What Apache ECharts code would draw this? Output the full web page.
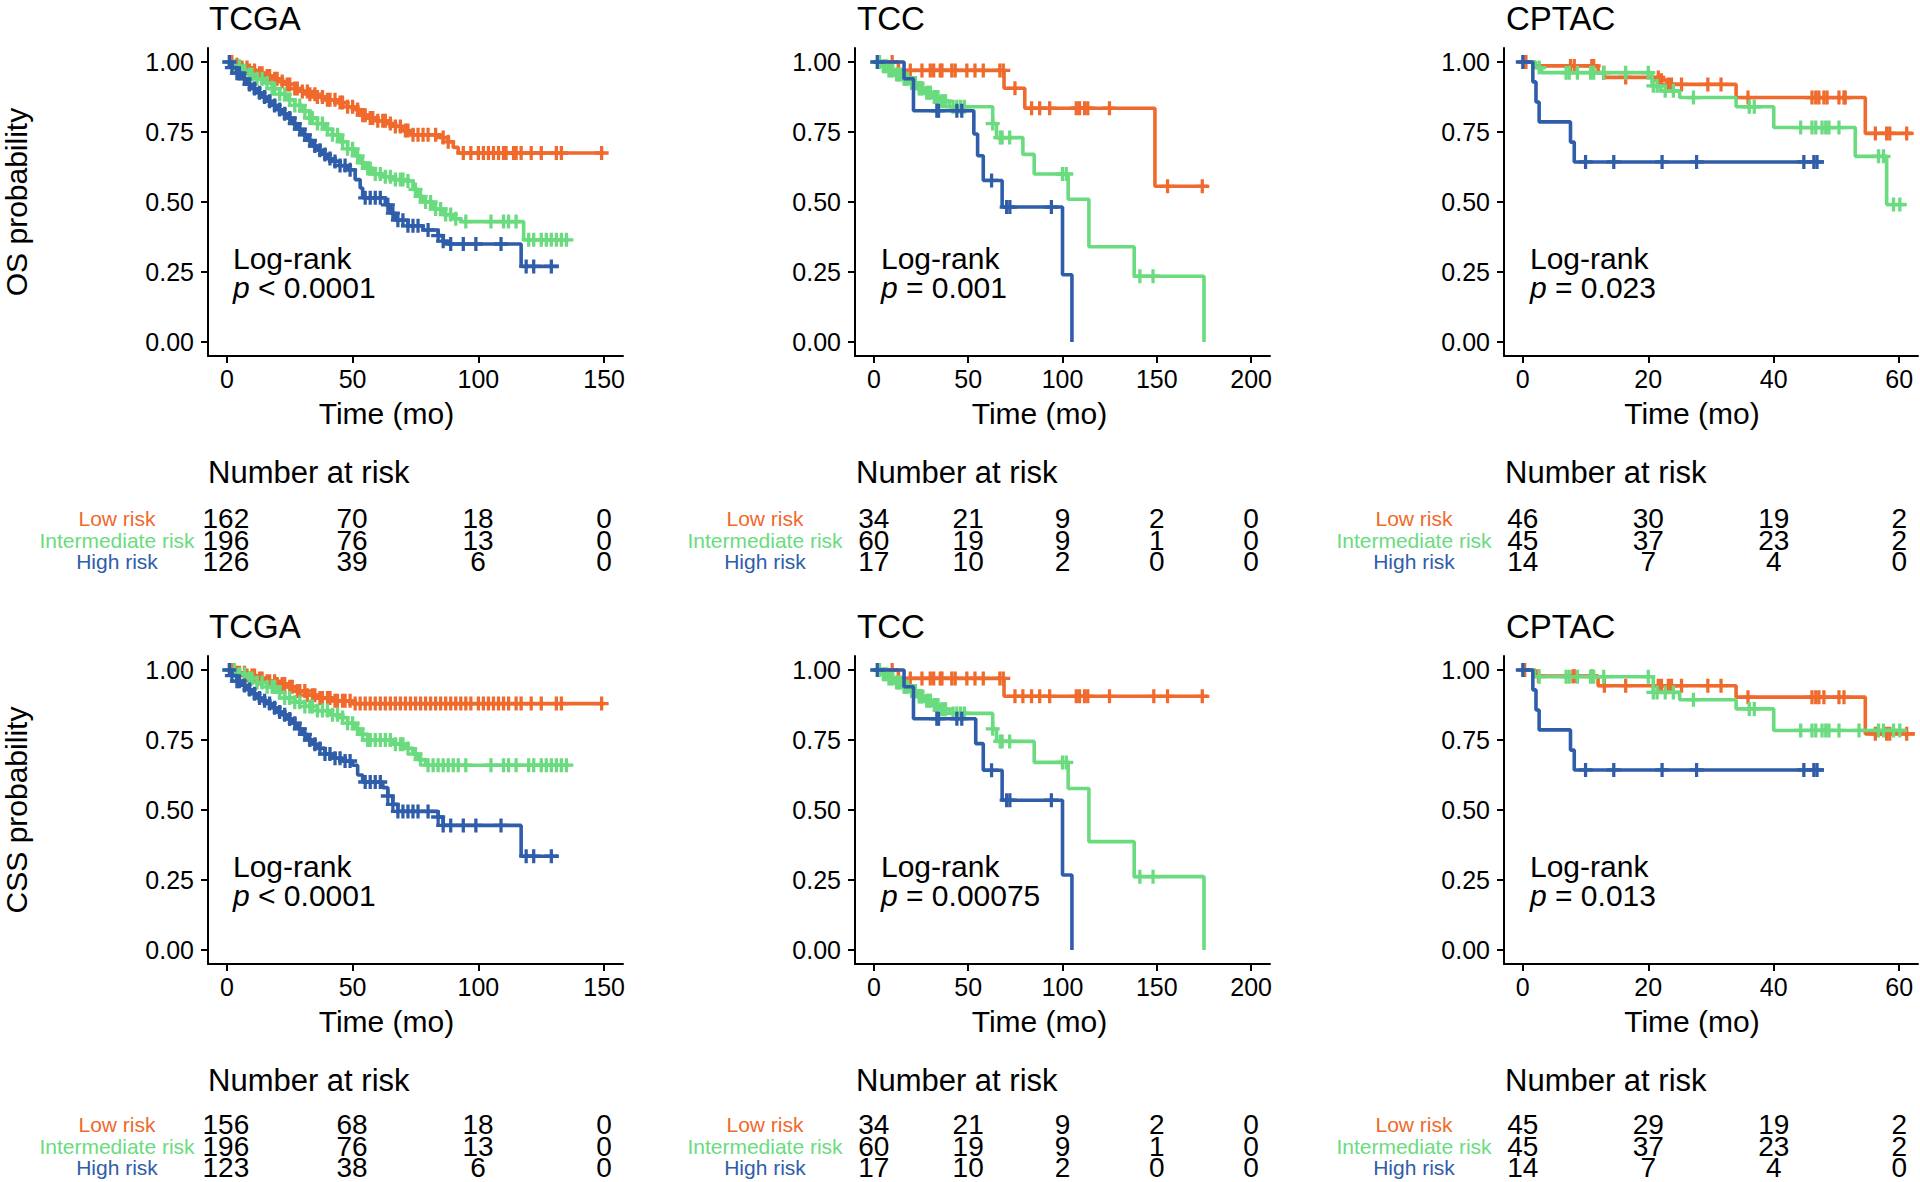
<!DOCTYPE html>
<html><head><meta charset="utf-8">
<script src="https://cdn.jsdelivr.net/npm/echarts@6/dist/echarts.min.js"></script>
<style>html,body{margin:0;padding:0;background:#fff}#c{width:1920px;height:1182px}</style>
</head><body><div id="c"></div><script>
// ---------------- DATA ----------------
const groups = ['Low risk', 'Intermediate risk', 'High risk'];

// TCGA OS
const tcgaOsLow = [[0,1],[3,0.99],[6,0.98],[9,0.97],[12,0.96],[15,0.95],[18,0.94],[21,0.93],[24,0.92],[27,0.905],[30,0.895],[33,0.885],[36,0.875],[40,0.865],[44,0.855],[48,0.84],[51,0.83],[53,0.81],[56,0.80],[60,0.79],[64,0.78],[67,0.77],[70,0.755],[73,0.74],[85,0.73],[88,0.715],[90,0.695],[92,0.675],[150,0.675]];
const tcgaOsInt = [[0,1],[3,0.985],[6,0.97],[9,0.955],[12,0.94],[15,0.925],[18,0.905],[21,0.885],[24,0.865],[27,0.845],[30,0.825],[33,0.80],[36,0.78],[39,0.76],[42,0.74],[45,0.715],[48,0.69],[51,0.665],[53,0.64],[55,0.62],[58,0.60],[62,0.59],[66,0.58],[72,0.575],[74,0.545],[76,0.52],[78,0.50],[82,0.475],[86,0.455],[90,0.44],[93,0.43],[118,0.365],[136,0.365]];
const tcgaOsHigh = [[0,1],[2,0.98],[4,0.96],[6,0.94],[8,0.92],[10,0.905],[12,0.89],[14,0.875],[16,0.86],[18,0.845],[20,0.83],[22,0.815],[24,0.80],[26,0.78],[28,0.76],[30,0.74],[32,0.72],[34,0.70],[36,0.685],[38,0.67],[40,0.655],[42,0.645],[45,0.63],[48,0.615],[51,0.58],[53,0.55],[54,0.515],[63,0.49],[65,0.46],[67,0.435],[72,0.415],[78,0.40],[84,0.38],[86,0.36],[88,0.35],[117,0.27],[132,0.27]];
const tcgaOsLowCens = [2,4,6,8,9,11,13,14,16,17,19,20,22,24,25,27,28,30,32,33,35,36,38,40,41,43,45,46,48,50,52,54,55,57,58,60,62,63,65,67,69,71,72,74,76,78,80,83,86,88,94,97,100,102,104,106,108,110,111,114,115,117,121,125,131,133,149];
const tcgaOsIntCens = [1,3,5,7,9,10,12,14,16,18,19,21,23,25,27,29,31,33,34,36,38,40,42,44,46,48,50,52,54,56,57,59,61,63,65,67,69,70,72,75,77,79,81,83,85,87,89,91,95,105,110,112,115,120,122,125,127,129,131,133,135];
const tcgaOsHighCens = [1,2,4,5,7,9,11,13,15,17,19,21,23,25,27,29,31,33,35,37,39,41,43,45,47,49,55,57,59,61,64,66,68,70,72,74,76,80,84,86,89,94,99,109,119,122,129];

// TCGA CSS
const tcgaCssLow = [[0,1],[4,0.99],[8,0.98],[12,0.97],[16,0.96],[20,0.95],[24,0.94],[28,0.925],[32,0.91],[36,0.90],[42,0.89],[50,0.88],[150,0.88]];
const tcgaCssInt = [[0,1],[4,0.985],[8,0.97],[12,0.955],[16,0.94],[20,0.92],[23,0.90],[27,0.885],[31,0.87],[36,0.855],[41,0.84],[45,0.83],[48,0.81],[51,0.79],[53,0.77],[56,0.75],[66,0.735],[71,0.72],[74,0.70],[76,0.68],[79,0.66],[136,0.66]];
const tcgaCssHigh = [[0,1],[2,0.98],[4,0.96],[6,0.945],[8,0.93],[10,0.915],[12,0.90],[14,0.89],[16,0.88],[18,0.865],[20,0.85],[22,0.84],[24,0.825],[26,0.81],[28,0.79],[30,0.77],[32,0.75],[34,0.735],[36,0.72],[39,0.70],[42,0.685],[46,0.675],[50,0.66],[52,0.625],[54,0.60],[62,0.58],[64,0.55],[66,0.52],[68,0.495],[84,0.475],[86,0.445],[117,0.335],[132,0.335]];
const tcgaCssLowCens = [2,4,5,7,8,10,11,13,14,16,17,19,20,22,23,25,26,28,29,31,32,34,35,37,38,40,41,43,44,46,47,49,51,53,55,57,59,61,63,65,67,69,71,73,75,77,79,81,83,85,87,89,91,93,95,97,100,102,104,106,108,110,112,115,117,121,125,131,133,149];
const tcgaCssIntCens = [1,3,5,7,9,10,12,14,16,18,19,21,23,25,27,29,31,33,34,36,38,40,42,44,46,48,50,52,54,56,57,59,61,63,65,67,69,70,72,75,77,80,82,84,86,88,90,92,95,105,110,112,115,120,122,125,127,129,131,133,135];
const tcgaCssHighCens = [1,2,4,5,7,9,11,13,15,17,19,21,23,25,27,29,31,33,35,37,39,41,43,45,47,49,55,57,59,61,64,66,68,70,72,74,76,80,84,86,89,94,99,109,119,122,129];

// TCC OS
const tccOsLow = [[0,1],[13,0.97],[69,0.906],[80,0.835],[149,0.556],[177,0.556]];
const tccOsInt = [[0,1],[4,0.985],[8,0.97],[11,0.955],[15,0.94],[19,0.925],[23,0.905],[27,0.89],[31,0.875],[35,0.86],[40,0.84],[63,0.78],[65,0.73],[79,0.67],[85,0.60],[103,0.51],[114,0.34],[138,0.235],[175,0]];
const tccOsHigh = [[0,1],[16,0.94],[21,0.826],[53,0.743],[55,0.665],[58,0.577],[68,0.482],[100,0.24],[105,0]];
const tccOsLowCens = [9.7,19.3,25.5,29.9,31.7,35.2,36.1,41.3,43.1,49.3,53.6,58,66.8,68.6,74.8,83.6,87.9,93.2,107.3,109,111.7,113.4,124.9,155.7,174.1];
const tccOsIntCens = [2,3,5,6,7,8,9,10,12,13,14,16,17,18,20,21,22,24,25,26,28,29,30,32,33,34,36,37,38,42,44,46,48,63,67,68,72,100,102,141,148];
const tccOsHighCens = [1.8,33.4,34.3,44,46.6,62.4,70.4,72.1,94.1];

// TCC CSS
const tccCssLow = [[0,1],[13,0.97],[69,0.906],[177,0.906]];
const tccCssInt = [[0,1],[4,0.985],[8,0.97],[11,0.955],[15,0.94],[19,0.925],[23,0.905],[27,0.89],[31,0.875],[35,0.86],[40,0.845],[63,0.79],[65,0.745],[85,0.67],[103,0.577],[114,0.387],[138,0.262],[175,0]];
const tccCssHigh = [[0,1],[16,0.94],[21,0.826],[54,0.737],[58,0.642],[68,0.535],[100,0.268],[105,0]];
const tccCssLowCens = [9.7,19.3,25.5,29.9,31.7,35.2,36.1,41.3,43.1,49.3,53.6,58,66.8,68.6,74.8,79,83.6,87.9,93.2,107.3,109,111.7,113.4,124.9,148.4,155.7,174.1];
const tccCssIntCens = [2,3,5,6,7,8,9,10,12,13,14,16,17,18,20,21,22,24,25,26,28,29,30,32,33,34,36,37,38,42,44,46,48,63,67,68,72,100,102,141,148];
const tccCssHighCens = [1.8,33.4,34.3,44,46.6,62.4,70.4,72.1,94.1];

// CPTAC OS
const cptacOsLow = [[0,1],[2,0.986],[12,0.962],[13,0.945],[22,0.935],[23,0.92],[34,0.873],[54.6,0.745],[62,0.745]];
const cptacOsInt = [[0,1],[2,0.98],[3,0.962],[20.6,0.915],[22,0.897],[25,0.873],[34,0.84],[40,0.766],[53,0.663],[58,0.491],[61,0.491]];
const cptacOsHigh = [[0,1],[1.6,0.929],[2.1,0.857],[2.6,0.786],[7.6,0.714],[8.2,0.643],[48,0.643]];
const cptacOsLowCens = [0.3,0.5,7.6,8.2,11,11.3,12.9,16.4,21.6,22.1,23.2,23.7,25.3,29.5,31.6,35.9,46.1,46.7,47.2,48,48.5,50.4,51.2,51.4,56.2,58,58.5,61.2];
const cptacOsIntCens = [2.6,6.9,7.4,8.7,10.8,11.3,12.9,16.4,20,20.8,21.4,22.7,24,27.2,36.1,36.9,44.3,46.1,46.7,47.7,48.3,48.8,50.4,56.7,57.5,59.1,60.1];
const cptacOsHighCens = [0,10,14.5,22.2,27.7,44.8,46.4,46.9];

// CPTAC CSS
const cptacCssLow = [[0,1],[2,0.978],[12,0.944],[34,0.903],[54.6,0.772],[62.5,0.772]];
const cptacCssInt = [[0,1],[1.8,0.976],[20.8,0.92],[25,0.894],[34,0.861],[40,0.784],[61,0.784]];
const cptacCssHigh = [[0,1],[1.6,0.929],[2.1,0.857],[2.6,0.786],[7.6,0.714],[8.2,0.643],[48,0.643]];
const cptacCssLowCens = [0.3,2.5,8,8.2,11,13,16.4,21.6,22.1,23.2,23.7,25.3,29.5,31.6,35.9,46.1,46.7,47.2,48,50.4,51.2,56.2,58,58.5,61.2];
const cptacCssIntCens = [2.6,6.9,7.4,8.7,10.8,11.3,12.9,20,20.8,21.4,22.7,24,27.2,36.1,36.9,44.3,46.1,46.7,47.7,48.3,48.8,50.4,53.6,56.7,57.5,59.1,60.1];
const cptacCssHighCens = [0,10,14.5,22.2,27.7,44.8,46.4,46.9];

// Axis ticks
const tcgaTicks = [0, 50, 100, 150];
const tccTicks = [0, 50, 100, 150, 200];
const cptacTicks = [0, 20, 40, 60];
const survTicks = [0, 0.25, 0.5, 0.75, 1];

// Numbers at risk
const tcgaOsRisk = [[162,70,18,0],[196,76,13,0],[126,39,6,0]];
const tccOsRisk = [[34,21,9,2,0],[60,19,9,1,0],[17,10,2,0,0]];
const cptacOsRisk = [[46,30,19,2],[45,37,23,2],[14,7,4,0]];
const tcgaCssRisk = [[156,68,18,0],[196,76,13,0],[123,38,6,0]];
const tccCssRisk = [[34,21,9,2,0],[60,19,9,1,0],[17,10,2,0,0]];
const cptacCssRisk = [[45,29,19,2],[45,37,23,2],[14,7,4,0]];

// p-values / titles
const pTexts = ['< 0.0001', '= 0.001', '= 0.023', '< 0.0001', '= 0.00075', '= 0.013'];
const titles = ['TCGA', 'TCC', 'CPTAC', 'TCGA', 'TCC', 'CPTAC'];
const yTitles = ['OS probability', 'CSS probability'];

// ---------------- LAYOUT / STYLE ----------------
const COLORS = ['#EF6A2C', '#6ADB7F', '#2F5DA9'];
const FONT = '"Liberation Sans", Arial, Helvetica, sans-serif';
const colLeft = [207, 855, 1504];
const colWidth = [416, 415, 414];
const rowOff = [0, 608];
const tableTop = [508, 1114];
const xRange = [[-7.5, 157.5], [-10, 210], [-3, 63]];
const xTickSets = [tcgaTicks, tccTicks, cptacTicks];
const xTitleShift = [29, 23, 19];

const panels = [
  {curves:[tcgaOsLow,tcgaOsInt,tcgaOsHigh], cens:[tcgaOsLowCens,tcgaOsIntCens,tcgaOsHighCens], risk:tcgaOsRisk},
  {curves:[tccOsLow,tccOsInt,tccOsHigh], cens:[tccOsLowCens,tccOsIntCens,tccOsHighCens], risk:tccOsRisk},
  {curves:[cptacOsLow,cptacOsInt,cptacOsHigh], cens:[cptacOsLowCens,cptacOsIntCens,cptacOsHighCens], risk:cptacOsRisk},
  {curves:[tcgaCssLow,tcgaCssInt,tcgaCssHigh], cens:[tcgaCssLowCens,tcgaCssIntCens,tcgaCssHighCens], risk:tcgaCssRisk},
  {curves:[tccCssLow,tccCssInt,tccCssHigh], cens:[tccCssLowCens,tccCssIntCens,tccCssHighCens], risk:tccCssRisk},
  {curves:[cptacCssLow,cptacCssInt,cptacCssHigh], cens:[cptacCssLowCens,cptacCssIntCens,cptacCssHighCens], risk:cptacCssRisk}
];

function survAt(curve, t) {
  let s = curve[0][1];
  for (const [tt, ss] of curve) { if (tt <= t) s = ss; else break; }
  return s;
}

const PLUS = 'path://M-1.4,-6H1.4V-1.4H6V1.4H1.4V6H-1.4V1.4H-6V-1.4H-1.4Z';

const grid = [], xAxis = [], yAxis = [], series = [], title = [], graphic = [];

panels.forEach((p, i) => {
  const col = i % 3, row = Math.floor(i / 3);
  const off = rowOff[row];
  const left = colLeft[col], width = colWidth[col];
  const pi = 2 * i, ti = 2 * i + 1;

  // ---- plot grid (index pi) ----
  grid.push({left: left, top: 48 + off, width: width, height: 308, containLabel: false});
  xAxis.push({
    type: 'value', gridIndex: pi, min: xRange[col][0], max: xRange[col][1],
    axisLine: {show: true, onZero: false, lineStyle: {color: '#000', width: 2}},
    axisTick: {show: true, length: 7, lineStyle: {color: '#000', width: 2}, customValues: xTickSets[col]},
    axisLabel: {show: true, fontSize: 25, color: '#000', fontFamily: FONT, margin: 10, customValues: xTickSets[col]},
    splitLine: {show: false},
    name: 'Time (mo)', nameLocation: 'middle', nameGap: 42,
    nameTextStyle: {fontSize: 30, color: '#000', fontFamily: FONT, padding: [0, 2 * xTitleShift[col], 0, 0]}
  });
  const ya = {
    type: 'value', gridIndex: pi, min: -0.05, max: 1.05,
    axisLine: {show: true, onZero: false, lineStyle: {color: '#000', width: 2}},
    axisTick: {show: true, length: 7, lineStyle: {color: '#000', width: 2}, customValues: survTicks},
    axisLabel: {show: true, fontSize: 25, color: '#000', fontFamily: FONT, margin: 14, customValues: survTicks,
      formatter: v => Number(v).toFixed(2)},
    splitLine: {show: false}
  };
  if (col === 0) {
    ya.name = yTitles[row]; ya.nameLocation = 'middle'; ya.nameRotate = 90; ya.nameGap = 177;
    ya.nameTextStyle = {fontSize: 30, color: '#000', fontFamily: FONT};
  }
  yAxis.push(ya);

  // ---- risk table grid (index ti) ----
  grid.push({left: left, top: tableTop[row], width: width, height: 64.5, containLabel: false});
  xAxis.push({type: 'value', gridIndex: ti, min: xRange[col][0], max: xRange[col][1], show: false});
  yAxis.push({
    type: 'category', gridIndex: ti, data: groups, inverse: true,
    axisLine: {show: false}, axisTick: {show: false}, splitLine: {show: false},
    axisLabel: {show: true, interval: 0, hideOverlap: false, margin: 90, align: 'center',
      fontSize: 21, lineHeight: 20, fontFamily: FONT,
      color: (v) => COLORS[groups.indexOf(v)]}
  });

  // curves + censor marks
  p.curves.forEach((c, g) => {
    series.push({
      type: 'line', xAxisIndex: pi, yAxisIndex: pi, data: c, step: 'end',
      showSymbol: false, symbol: 'none', silent: true, animation: false,
      lineStyle: {color: COLORS[g], width: 3.6}, z: 2 + g
    });
    series.push({
      type: 'scatter', xAxisIndex: pi, yAxisIndex: pi, silent: true, animation: false,
      data: p.cens[g].map(t => [t, survAt(c, t)]),
      symbol: PLUS, symbolSize: 14, itemStyle: {color: COLORS[g], opacity: 1}, z: 2 + g
    });
  });

  // numbers at risk
  const tdata = [];
  p.risk.forEach((rowVals, g) => rowVals.forEach((n, k) => tdata.push([xTickSets[col][k], groups[g], n])));
  series.push({
    type: 'scatter', xAxisIndex: ti, yAxisIndex: ti, data: tdata, silent: true, animation: false,
    symbolSize: 0.1, itemStyle: {color: '#fff', opacity: 1},
    labelLayout: {hideOverlap: false},
    label: {show: true, position: 'inside', formatter: d => String(d.data[2]), fontSize: 28, lineHeight: 20,
      color: '#000', opacity: 1, textBorderWidth: 0, fontFamily: FONT}
  });

  // title
  title.push({text: titles[i], left: left + 2, top: off + 1, padding: 0,
    textStyle: {fontSize: 33, lineHeight: 34, fontWeight: 'normal', color: '#000', fontFamily: FONT}});

  // log-rank annotation
  graphic.push({type: 'text', x: left + 26, y: 258 + off, silent: true,
    style: {text: 'Log-rank', fontSize: 30, fontFamily: FONT, fill: '#000', align: 'left', verticalAlign: 'middle'}});
  graphic.push({type: 'text', x: left + 26, y: 287 + off, silent: true,
    style: {text: '{i|p} ' + pTexts[i], fontSize: 30, fontFamily: FONT, fill: '#000', align: 'left', verticalAlign: 'middle',
      rich: {i: {fontStyle: 'italic', fontSize: 30, fontFamily: FONT, fill: '#000'}}}});
  // number at risk heading
  graphic.push({type: 'text', x: left + 1, y: 472 + off, silent: true,
    style: {text: 'Number at risk', fontSize: 31, fontFamily: FONT, fill: '#000', align: 'left', verticalAlign: 'middle'}});
});

const chart = echarts.init(document.getElementById('c'), null, {renderer: 'svg'});
chart.setOption({
  backgroundColor: '#fff', animation: false,
  textStyle: {fontFamily: FONT},
  title, grid, xAxis, yAxis, series, graphic
});
</script></body></html>
